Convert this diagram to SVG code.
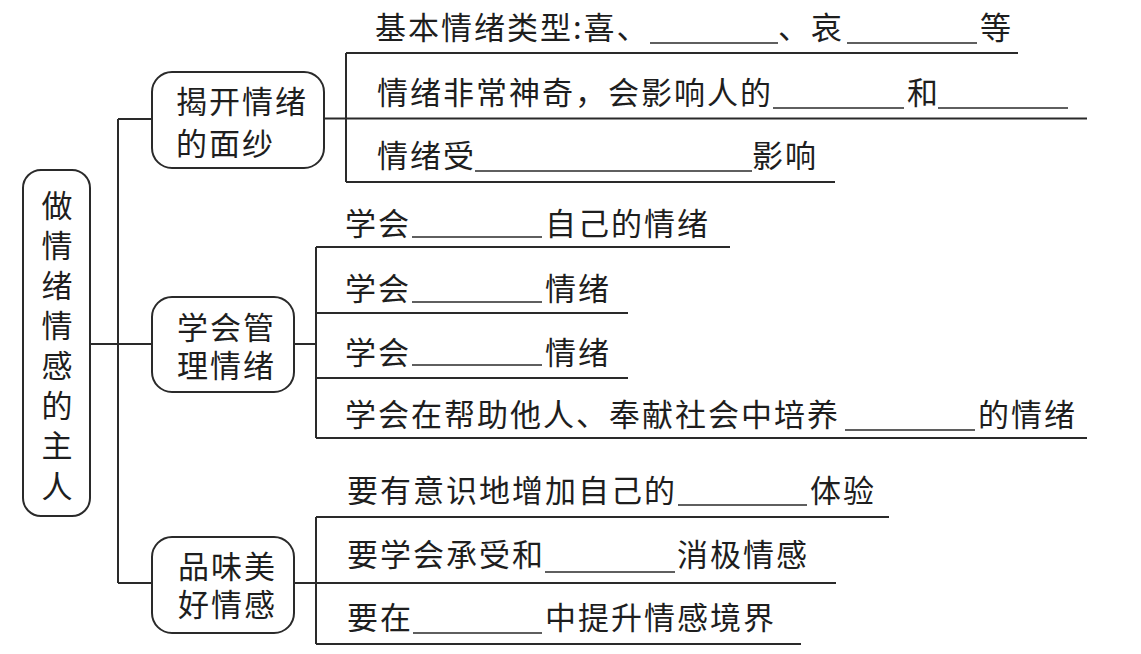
<svg xmlns="http://www.w3.org/2000/svg" width="1141" height="654" viewBox="0 0 1141 654">
<style>
.t{font-family:"Noto Sans CJK SC","Noto Sans",sans-serif;font-size:31px;letter-spacing:2px;fill:#1e1e1e;dominant-baseline:central}
.r{font-family:"Noto Sans CJK SC","Noto Sans",sans-serif;font-size:31px;fill:#1e1e1e;dominant-baseline:central;text-anchor:middle}
.box{fill:#fff;stroke:#2a2a2a;stroke-width:2}
.ln{stroke:#2a2a2a;stroke-width:2;fill:none}
.bl{stroke:#2a2a2a;stroke-width:1.6;fill:none}
</style>
<rect width="1141" height="654" fill="#fff"/>
<g id="connectors">
<path class="ln" d="M90 344H118M118 119V583M118 119H152M118 344H152M118 583H152"/>
<path class="ln" d="M324 118.5H346M346 53V182M346 53H1018M346 118.5H1087M346 182H835"/>
<path class="ln" d="M294 344H316M316 247V438M316 247H730M316 313H628M316 378H628M316 438H1087"/>
<path class="ln" d="M294 583H316M316 517V644M316 517H889M316 583H836M316 644H801"/>
</g>
<g id="root">
<rect class="box" x="23" y="170" width="67" height="346" rx="18"/>
<text class="r" x="57" y="203">做</text>
<text class="r" x="57" y="243">情</text>
<text class="r" x="57" y="283">绪</text>
<text class="r" x="57" y="323">情</text>
<text class="r" x="57" y="363">感</text>
<text class="r" x="57" y="403">的</text>
<text class="r" x="57" y="443">主</text>
<text class="r" x="57" y="484">人</text>
</g>
<g id="node1">
<rect class="box" x="152" y="72" width="172" height="96" rx="20"/>
<text class="t" x="176" y="99">揭开情绪</text>
<text class="t" x="176" y="141">的面纱</text>
</g>
<g id="node2">
<rect class="box" x="152" y="297" width="142" height="95" rx="20"/>
<text class="t" x="177" y="325">学会管</text>
<text class="t" x="177" y="363">理情绪</text>
</g>
<g id="node3">
<rect class="box" x="152" y="537" width="142" height="96" rx="20"/>
<text class="t" x="178" y="564">品味美</text>
<text class="t" x="178" y="602">好情感</text>
</g>
<g id="items1">
<text class="t" x="375" y="25">基本情绪类型:喜、</text>
<line class="bl" x1="650" y1="43" x2="778" y2="43"/>
<text class="t" x="778" y="25">、哀</text>
<line class="bl" x1="847" y1="43" x2="977" y2="43"/>
<text class="t" x="980" y="25">等</text>
<text class="t" x="377" y="90">情绪非常神奇，会影响人的</text>
<line class="bl" x1="773" y1="108" x2="904" y2="108"/>
<text class="t" x="907" y="90">和</text>
<line class="bl" x1="938" y1="108" x2="1068" y2="108"/>
<text class="t" x="377" y="153">情绪受</text>
<line class="bl" x1="475" y1="171" x2="752" y2="171"/>
<text class="t" x="752" y="153">影响</text>
</g>
<g id="items2">
<text class="t" x="345" y="221">学会</text>
<line class="bl" x1="412" y1="237" x2="542" y2="237"/>
<text class="t" x="545" y="221">自己的情绪</text>
<text class="t" x="345" y="286">学会</text>
<line class="bl" x1="412" y1="302" x2="542" y2="302"/>
<text class="t" x="545" y="286">情绪</text>
<text class="t" x="345" y="350">学会</text>
<line class="bl" x1="412" y1="365" x2="542" y2="365"/>
<text class="t" x="545" y="350">情绪</text>
<text class="t" x="345" y="412">学会在帮助他人、奉献社会中培养</text>
<line class="bl" x1="845" y1="430" x2="975" y2="430"/>
<text class="t" x="978" y="412">的情绪</text>
</g>
<g id="items3">
<text class="t" x="347" y="488">要有意识地增加自己的</text>
<line class="bl" x1="678" y1="505" x2="807" y2="505"/>
<text class="t" x="810" y="488">体验</text>
<text class="t" x="347" y="552">要学会承受和</text>
<line class="bl" x1="545" y1="572" x2="675" y2="572"/>
<text class="t" x="677" y="552">消极情感</text>
<text class="t" x="347" y="615">要在</text>
<line class="bl" x1="413" y1="633" x2="542" y2="633"/>
<text class="t" x="545" y="615">中提升情感境界</text>
</g>
</svg>
